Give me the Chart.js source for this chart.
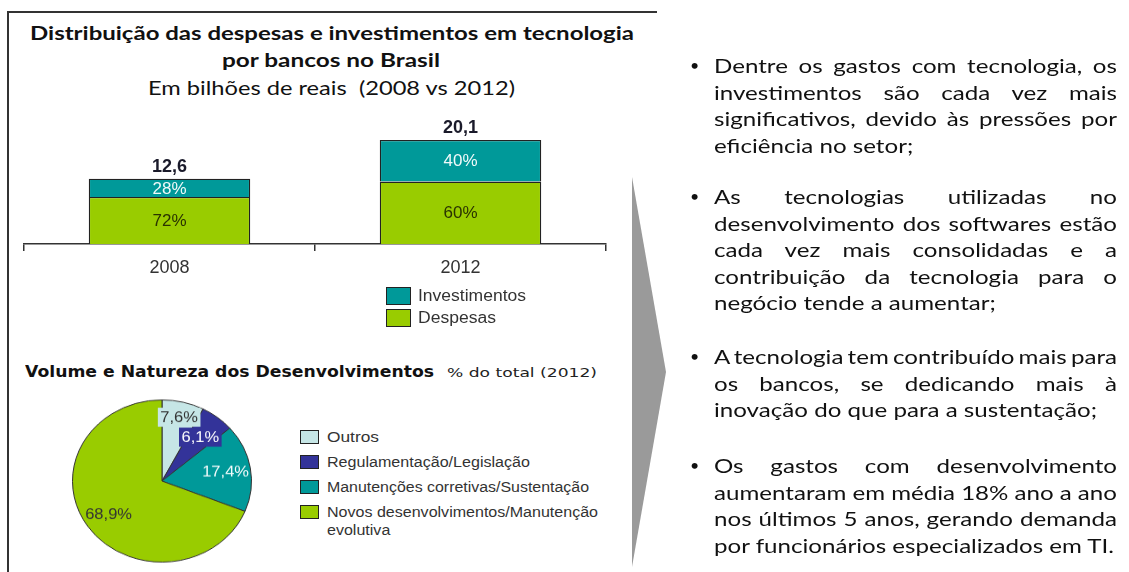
<!DOCTYPE html>
<html><head><meta charset="utf-8">
<script src="https://cdn.jsdelivr.net/npm/chart.js@4"></script>
<style>
html,body{margin:0;padding:0;background:#fff;}
body{width:1129px;height:572px;position:relative;overflow:hidden;font-family:"Liberation Sans",Arial,sans-serif;color:#111;}
.t{position:absolute;white-space:nowrap;line-height:1.2;transform-origin:0 50%;}
.cal{font-family:Lato,"Open Sans",sans-serif;}
.sq{position:absolute;box-sizing:border-box;border:1.5px solid #222;}
canvas{position:absolute;}
</style></head><body>
<div style="position:absolute;left:7px;top:11px;width:648px;height:580px;border-left:2px solid #333;border-top:2px solid #333;"></div>

<div class="t cal" style="font-weight:700;font-size:19px;" data-x="30" data-y="33" data-w="604">Distribuição das despesas e investimentos em tecnologia</div>
<div class="t cal" style="font-weight:700;font-size:19px;" data-x="222" data-y="60" data-w="218">por bancos no Brasil</div>
<div class="t cal" style="font-size:19px;" data-x="148" data-y="88" data-w="367">Em bilhões de reais&nbsp; (2008 vs 2012)</div>

<canvas id="bar" width="640" height="189" style="left:0;top:100px;width:640px;height:189px;"></canvas>
<div id="barLegend"></div>

<div class="t" style="font-family:'DejaVu Sans';font-weight:700;font-size:15px;color:#111;" data-x="25" data-y="372" data-w="409">Volume e Natureza dos Desenvolvimentos</div>
<div class="t" style="font-family:'DejaVu Sans';font-size:13px;color:#222;" data-x="447" data-y="373" data-w="150">% do total (2012)</div>

<canvas id="pie" width="200" height="200" style="left:62px;top:381px;width:200px;height:200px;transform:scaleY(0.906);transform-origin:50% 50%;"></canvas>
<div id="pieLegend"></div>

<svg style="position:absolute;left:0;top:0;" width="1129" height="572"><polygon points="632,177 666,372 632,567" fill="#9a9a9a"/></svg>
<div id="notes"></div>

<script>
// ---- data ----
const years = ['2008', '2012'];
const despesas = [9.07, 12.06];
const investimentos = [3.53, 8.04];
const barSeriesNames = ['Despesas', 'Investimentos'];

const pieCategories = ['Outros', 'Regulamentação/Legislação', 'Manutenções corretivas/Sustentação', 'Novos desenvolvimentos/Manutenção evolutiva'];
const pieValues = [7.6, 6.1, 17.4, 68.9];

const notes = [
  ['Dentre os gastos com tecnologia, os', 'investimentos são cada vez mais', 'significativos, devido às pressões por', 'eficiência no setor;'],
  ['As tecnologias utilizadas no', 'desenvolvimento dos softwares estão', 'cada vez mais consolidadas e a', 'contribuição da tecnologia para o', 'negócio tende a aumentar;'],
  ['A tecnologia tem contribuído mais para', 'os bancos, se dedicando mais à', 'inovação do que para a sustentação;'],
  ['Os gastos com desenvolvimento', 'aumentaram em média 18% ano a ano', 'nos últimos 5 anos, gerando demanda', 'por funcionários especializados em TI.']
];

// ---- styles ----
const TEAL = '#009999', LIME = '#99cc00', NAVY = '#333399', PALE = '#c6e6e6';
const barColors = [LIME, TEAL];
const pieColors = [PALE, NAVY, TEAL, LIME];
const pieLabelColors = ['#333', '#fff', '#f2fbfb', '#333'];
const pieLabelBox = [true, true, false, false];
const pieLabelRadius = [0.81, 0.69, 0.72, 0.72];

const fmt = v => v.toFixed(1).replace('.', ',');

// ---- text placement helper ----
function place(el, scale) {
  const x = +el.dataset.x, y = +el.dataset.y, w = +el.dataset.w;
  const r = el.getBoundingClientRect();
  const s = scale || (w ? w / r.width : 1);
  el.style.left = x + 'px';
  el.style.top = (y - r.height / 2) + 'px';
  el.style.transform = 'scaleX(' + s + ')';
  return s;
}
document.querySelectorAll('.t[data-x]').forEach(el => place(el));

// ---- bar chart ----
const barLabels = {
  id: 'barLabels',
  afterDatasetsDraw(chart) {
    const ctx = chart.ctx;
    ctx.save();
    ctx.textAlign = 'center'; ctx.textBaseline = 'middle';
    const totals = years.map((_, i) => despesas[i] + investimentos[i]);
    chart.data.datasets.forEach((ds, di) => {
      const meta = chart.getDatasetMeta(di);
      meta.data.forEach((bar, i) => {
        const pct = Math.round(ds.data[i] / totals[i] * 100) + '%';
        ctx.font = '17px "Liberation Sans", Arial';
        ctx.fillStyle = di === 1 ? '#f0fafa' : '#2a3300';
        ctx.fillText(pct, bar.x, (bar.y + bar.base) / 2 + 1);
        if (di === chart.data.datasets.length - 1) {
          ctx.font = 'bold 18px "Liberation Sans", Arial';
          ctx.fillStyle = '#1a1a2a';
          ctx.fillText(fmt(totals[i]), bar.x, bar.y - 12);
        }
      });
    });
    ctx.restore();
  }
};

new Chart(document.getElementById('bar'), {
  type: 'bar',
  data: {
    labels: years,
    datasets: [
      { label: barSeriesNames[0], data: despesas, backgroundColor: barColors[0], borderColor: '#222', borderWidth: 1.3 },
      { label: barSeriesNames[1], data: investimentos, backgroundColor: barColors[1], borderColor: '#222', borderWidth: 1.3 }
    ]
  },
  options: {
    responsive: false, animation: false, devicePixelRatio: 1,
    layout: { padding: { left: 24, right: 34, top: 10, bottom: 0 } },
    datasets: { bar: { barPercentage: 0.555, categoryPercentage: 1 } },
    plugins: { legend: { display: false }, tooltip: { enabled: false } },
    scales: {
      x: {
        stacked: true,
        grid: { display: true, drawOnChartArea: false, drawTicks: true, tickLength: 7, color: '#333', offset: true, lineWidth: 1.5 },
        border: { display: true, color: '#333', width: 1.5 },
        ticks: { color: '#333', font: { size: 18, family: '"Liberation Sans", Arial' }, padding: 6 },
        afterFit(s) { s.height = 45; }
      },
      y: { stacked: true, display: false, min: 0, max: 25.9 }
    }
  },
  plugins: [barLabels]
});

// bar legend (Investimentos above Despesas)
(function () {
  const box = document.getElementById('barLegend');
  const order = [1, 0], ys = [296, 318], ws = [108, 78];
  order.forEach((k, j) => {
    const sq = document.createElement('div');
    sq.className = 'sq';
    Object.assign(sq.style, { left: '386px', top: (ys[j] - 9) + 'px', width: '25px', height: '18px', background: barColors[k] });
    box.appendChild(sq);
    const t = document.createElement('div');
    t.className = 't';
    t.style.fontSize = '16px'; t.style.color = '#333';
    t.textContent = barSeriesNames[k];
    t.dataset.x = 418; t.dataset.y = ys[j]; t.dataset.w = ws[j];
    box.appendChild(t); place(t);
  });
})();

// ---- pie chart ----
const pieLabels = {
  id: 'pieLabels',
  afterDatasetsDraw(chart) {
    const ctx = chart.ctx;
    const meta = chart.getDatasetMeta(0);
    ctx.save();
    ctx.font = '16.5px "Liberation Sans", Arial';
    ctx.textAlign = 'center'; ctx.textBaseline = 'middle';
    meta.data.forEach((arc, i) => {
      const mid = (arc.startAngle + arc.endAngle) / 2;
      const r = arc.outerRadius * pieLabelRadius[i];
      const x = arc.x + Math.cos(mid) * r, y = arc.y + Math.sin(mid) * r;
      const txt = fmt(pieValues[i]) + '%';
      if (pieLabelBox[i]) {
        const w = ctx.measureText(txt).width + 5;
        ctx.fillStyle = pieColors[i];
        ctx.fillRect(x - w / 2, y - 10.5, w, 21);
      }
      ctx.fillStyle = pieLabelColors[i];
      ctx.fillText(txt, x, y + 1);
    });
    ctx.restore();
  }
};

new Chart(document.getElementById('pie'), {
  type: 'pie',
  data: {
    labels: pieCategories,
    datasets: [{ data: pieValues, backgroundColor: pieColors, borderColor: '#333', borderWidth: 1 }]
  },
  options: {
    responsive: false, animation: false, devicePixelRatio: 1,
    layout: { padding: 10 },
    plugins: { legend: { display: false }, tooltip: { enabled: false } }
  },
  plugins: [pieLabels]
});

// pie legend
(function () {
  const box = document.getElementById('pieLegend');
  const ys = [437, 462, 487, 512], ws = [52, 203, 262, 271];
  pieCategories.forEach((name, i) => {
    const sq = document.createElement('div');
    sq.className = 'sq';
    Object.assign(sq.style, { left: '300px', top: (ys[i] - 7) + 'px', width: '19px', height: '14px', background: pieColors[i], borderWidth: '1px' });
    box.appendChild(sq);
    const parts = i === 3 ? ['Novos desenvolvimentos/Manutenção', 'evolutiva'] : [name];
    let s = 0;
    parts.forEach((p, j) => {
      const t = document.createElement('div');
      t.className = 't';
      t.style.fontSize = '14px'; t.style.color = '#333';
      t.textContent = p;
      t.dataset.x = 327; t.dataset.y = ys[i] + j * 18;
      if (j === 0) t.dataset.w = ws[i];
      box.appendChild(t);
      s = place(t, j === 0 ? 0 : s);
    });
  });
})();

// ---- notes on the right ----
(function () {
  const box = document.getElementById('notes');
  const starts = [65, 196, 356, 465], pitch = 26.6, left = 714, right = 1117;
  const probe = document.createElement('span');
  probe.className = 't cal'; probe.style.fontSize = '20px';
  probe.textContent = 'inovação do que para a sustentação;';
  box.appendChild(probe);
  const s = 383 / probe.getBoundingClientRect().width;
  box.removeChild(probe);
  notes.forEach((lines, p) => {
    const b = document.createElement('div');
    b.className = 't cal'; b.style.fontSize = '16px'; b.style.color = '#111';
    b.textContent = '•';
    b.dataset.x = 690; b.dataset.y = starts[p];
    box.appendChild(b); place(b);
    lines.forEach((ln, j) => {
      const t = document.createElement('div');
      t.className = 't cal'; t.style.fontSize = '20px'; t.style.color = '#111';
      t.textContent = ln;
      box.appendChild(t);
      if (j !== lines.length - 1) {
        const w = t.getBoundingClientRect().width;
        const n = (ln.match(/ /g) || []).length;
        t.style.wordSpacing = (((right - left) / s - w) / n) + 'px';
      }
      t.dataset.x = left; t.dataset.y = starts[p] + j * pitch;
      place(t, s);
    });
  });
})();
</script>
</body></html>
